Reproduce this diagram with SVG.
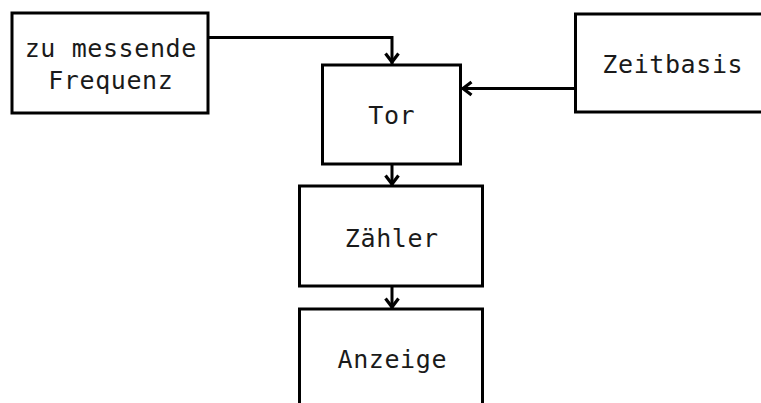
<svg xmlns="http://www.w3.org/2000/svg" width="761" height="403" viewBox="0 0 761 403">
<style>
.box{fill:#fff;stroke:#000;stroke-width:3}
.lbl{font-family:"DejaVu Sans Mono","Liberation Mono",monospace;font-size:25px;letter-spacing:0.6px;fill:#1a1a1a;text-anchor:middle}
.con{fill:none;stroke:#000;stroke-width:3}
.ah{fill:none;stroke:#000;stroke-width:3.2;stroke-linejoin:miter}
</style>
<rect width="761" height="403" fill="#fff"/>
<g id="n-frequenz"><rect class="box" x="12" y="13" width="196" height="100"/><text class="lbl" x="110.8" y="56.5">zu messende</text><text class="lbl" x="110.8" y="89">Frequenz</text></g>
<g id="n-tor"><rect class="box" x="322.5" y="65" width="138" height="99"/><text class="lbl" x="391.8" y="124">Tor</text></g>
<g id="n-zeitbasis"><rect class="box" x="575.5" y="14" width="200" height="98"/><text class="lbl" x="672.8" y="72.5">Zeitbasis</text></g>
<g id="n-zaehler"><rect class="box" x="299.5" y="186" width="183" height="100"/><text class="lbl" x="391.8" y="246.5">Zähler</text></g>
<g id="n-anzeige"><rect class="box" x="299.5" y="309" width="183" height="110"/><text class="lbl" x="392.3" y="368">Anzeige</text></g>
<g id="connectors">
<path class="con" d="M208 37.5H392V64"/><path class="ah" d="M385.5 53.5L392 62L398.5 53.5"/>
<path class="con" d="M575.5 88.5H462"/><path class="ah" d="M471.5 82L463 88.5L471.5 95"/>
<path class="con" d="M392 164V185"/><path class="ah" d="M385.5 175.5L392 184L398.5 175.5"/>
<path class="con" d="M392 286V308"/><path class="ah" d="M385.5 298.5L392 307L398.5 298.5"/>
</g>
</svg>
